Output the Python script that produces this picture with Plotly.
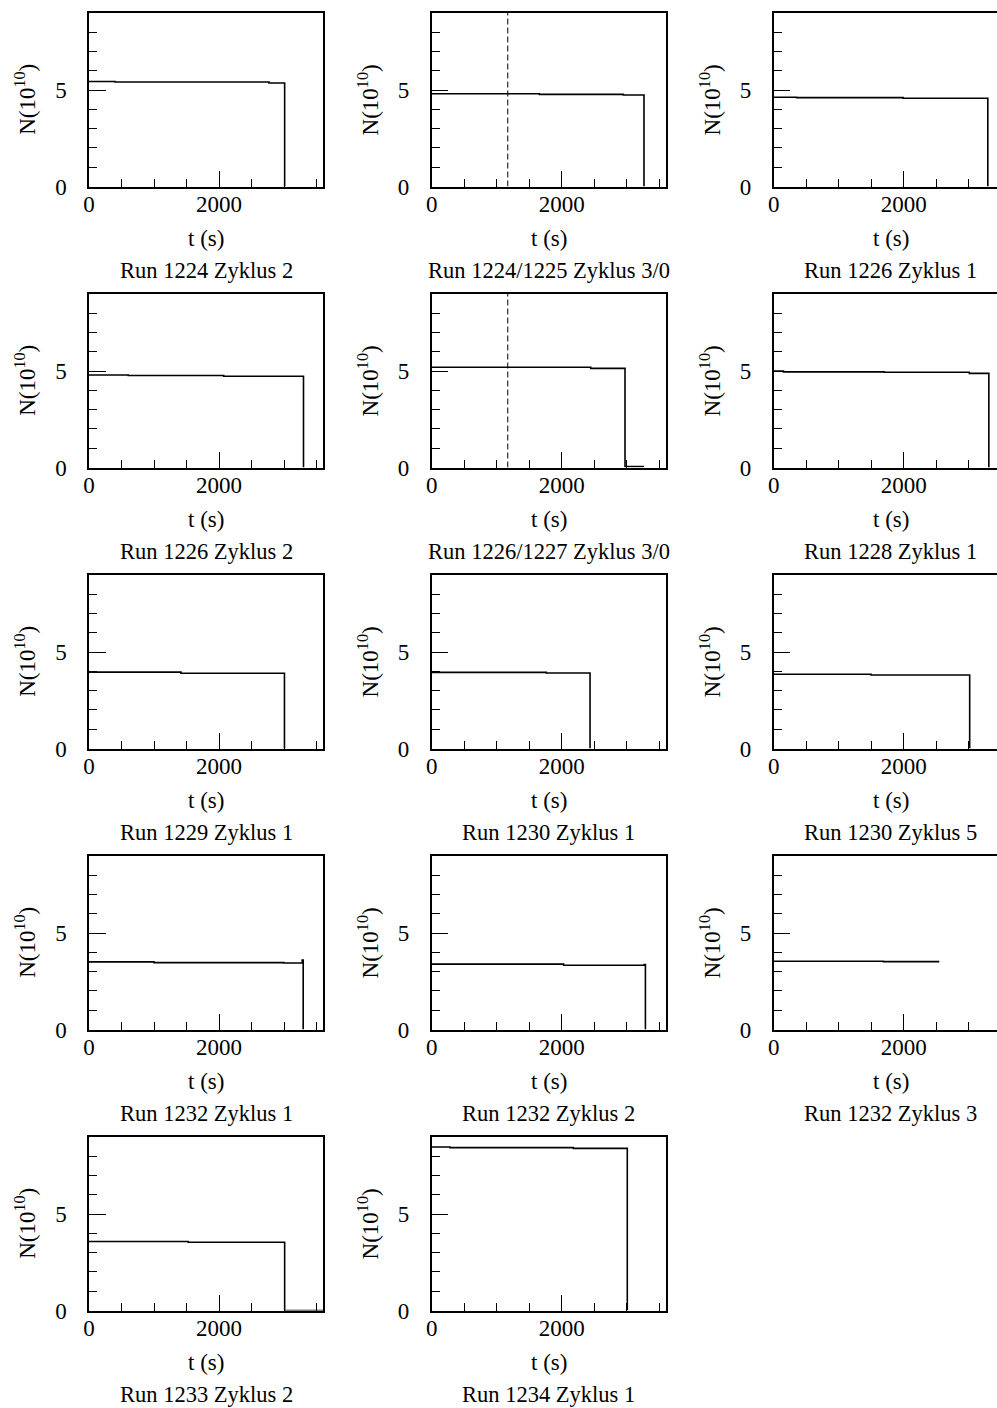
import plotly.graph_objects as go

W, H = 997, 1408
FONT = "Liberation Serif, Times New Roman, serif"

captions = [
    "Run 1224 Zyklus 2", "Run 1224/1225 Zyklus 3/0", "Run 1226 Zyklus 1",
    "Run 1226 Zyklus 2", "Run 1226/1227 Zyklus 3/0", "Run 1228 Zyklus 1",
    "Run 1229 Zyklus 1", "Run 1230 Zyklus 1", "Run 1230 Zyklus 5",
    "Run 1232 Zyklus 1", "Run 1232 Zyklus 2", "Run 1232 Zyklus 3",
    "Run 1233 Zyklus 2", "Run 1234 Zyklus 1",
]

# step data: times (s) and N (1e10); line_shape 'hv'
t_1224_2 = [0, 400, 2770, 3010]
n_1224_2 = [5.45, 5.42, 5.37, 0]
t_1224_3 = [0, 1656, 2948, 3266]
n_1224_3 = [4.81, 4.78, 4.75, 0]
t_1226_1 = [0, 353, 1990, 3294]
n_1226_1 = [4.63, 4.61, 4.58, 0]
t_1226_2 = [0, 604, 2072, 3300]
n_1226_2 = [4.80, 4.77, 4.73, 0]
t_1226_3 = [0, 2446, 2974, 3266]
n_1226_3 = [5.20, 5.14, 0.05, 0.05]
t_1228_1 = [0, 150, 1700, 3010, 3310]
n_1228_1 = [5.00, 4.96, 4.94, 4.88, 0]
t_1229_1 = [0, 1415, 3007]
n_1229_1 = [3.96, 3.90, 0]
t_1230_1 = [0, 1764, 2436]
n_1230_1 = [3.95, 3.92, 0]
t_1230_5 = [0, 1497, 3015]
n_1230_5 = [3.85, 3.81, 0]
t_1232_1 = [0, 1000, 2995, 3280, 3295]
n_1232_1 = [3.51, 3.47, 3.45, 3.60, 0]
t_1232_2 = [0, 2030, 3270, 3288]
n_1232_2 = [3.39, 3.33, 3.37, 0]
t_1232_3 = [0, 1686, 2548]
n_1232_3 = [3.54, 3.52, 3.52]
t_1233_2 = [0, 1525, 3010, 3600]
n_1233_2 = [3.58, 3.54, 0, 0]
t_1234_1 = [0, 282, 2180, 3009]
n_1234_1 = [8.48, 8.45, 8.41, 0]

series_t = [t_1224_2, t_1224_3, t_1226_1, t_1226_2, t_1226_3, t_1228_1, t_1229_1,
            t_1230_1, t_1230_5, t_1232_1, t_1232_2, t_1232_3, t_1233_2, t_1234_1]
series_n = [n_1224_2, n_1224_3, n_1226_1, n_1226_2, n_1226_3, n_1228_1, n_1229_1,
            n_1230_1, n_1230_5, n_1232_1, n_1232_2, n_1232_3, n_1233_2, n_1234_1]

# run-boundary markers (dashed) : panel index -> time
run_boundary = {1: 1170, 4: 1170}

x_max, y_max = 3600, 9
x_ticks_major = [0, 2000]
y_ticks_major = [0, 5]

# layout geometry (pixels)
col_left = [89, 431.7, 773.7]
pw, ph = 234, 173.5
row_top = [13 + 281 * r for r in range(5)]

fig = go.Figure()
annotations = []
layout = {}

for i in range(len(captions)):
    r, c = divmod(i, 3)
    left = col_left[c]
    right = left + pw
    top = row_top[r]
    bottom = top + ph
    vis_right = min(right, W)
    xr = x_max * (vis_right - left) / pw
    ax = "" if i == 0 else str(i + 1)
    xa, ya = "x" + ax, "y" + ax

    fig.add_trace(go.Scatter(
        x=series_t[i], y=series_n[i], mode="lines", line_shape="hv",
        line=dict(color="black", width=1.6), xaxis=xa, yaxis=ya,
        showlegend=False, hoverinfo="skip"))
    if i in run_boundary:
        tb = run_boundary[i]
        fig.add_trace(go.Scatter(
            x=[tb, tb], y=[0, y_max], mode="lines",
            line=dict(color="black", width=1, dash="6px,3px"),
            xaxis=xa, yaxis=ya, showlegend=False, hoverinfo="skip"))

    layout["xaxis" + ax] = dict(
        domain=[left / W, vis_right / W], range=[0, xr], anchor=ya,
        automargin=False,
        showline=True, linecolor="black", linewidth=1.5, mirror=True,
        showgrid=False, zeroline=False,
        tickmode="array", tickvals=x_ticks_major, ticktext=[str(v) for v in x_ticks_major],
        ticks="inside", ticklen=16, tickwidth=1.2, tickcolor="black",
        minor=dict(dtick=500, tick0=0, ticks="inside", ticklen=8, tickwidth=1.2,
                   tickcolor="black", showgrid=False),
        tickfont=dict(family=FONT, size=23, color="black"),
        ticklabelstandoff=-4, fixedrange=True)
    layout["yaxis" + ax] = dict(
        domain=[(H - bottom) / H, (H - top) / H], range=[0, y_max], anchor=xa,
        automargin=False,
        showline=True, linecolor="black", linewidth=1.5, mirror=(vis_right >= right),
        showgrid=False, zeroline=False,
        tickmode="array", tickvals=y_ticks_major, ticktext=[str(v) for v in y_ticks_major],
        ticks="inside", ticklen=17, tickwidth=1.2, tickcolor="black",
        minor=dict(dtick=1, tick0=0, ticks="inside", ticklen=8.5, tickwidth=1.2,
                   tickcolor="black", showgrid=False),
        tickfont=dict(family=FONT, size=23, color="black"),
        ticklabelstandoff=16, fixedrange=True)

    cx = (left + right) / 2
    annotations.append(dict(
        x=cx / W, y=(H - (bottom + 52)) / H, xref="paper", yref="paper",
        text="t (s)", showarrow=False, xanchor="center", yanchor="middle",
        font=dict(family=FONT, size=23, color="black")))
    annotations.append(dict(
        x=cx / W, y=(H - (bottom + 84)) / H, xref="paper", yref="paper",
        text=captions[i], showarrow=False, xanchor="center", yanchor="middle",
        font=dict(family=FONT, size=22.5, color="black")))
    annotations.append(dict(
        x=(left - 63) / W, y=(H - (top + bottom) / 2) / H, xref="paper", yref="paper",
        text="N(10<sup>10</sup>)", showarrow=False, textangle=-90,
        xanchor="center", yanchor="middle",
        font=dict(family=FONT, size=23, color="black")))

fig.update_layout(
    width=W, height=H, margin=dict(l=0, r=0, t=0, b=0, autoexpand=False),
    paper_bgcolor="white", plot_bgcolor="white",
    annotations=annotations, **layout)

fig.write_html("out.html")
